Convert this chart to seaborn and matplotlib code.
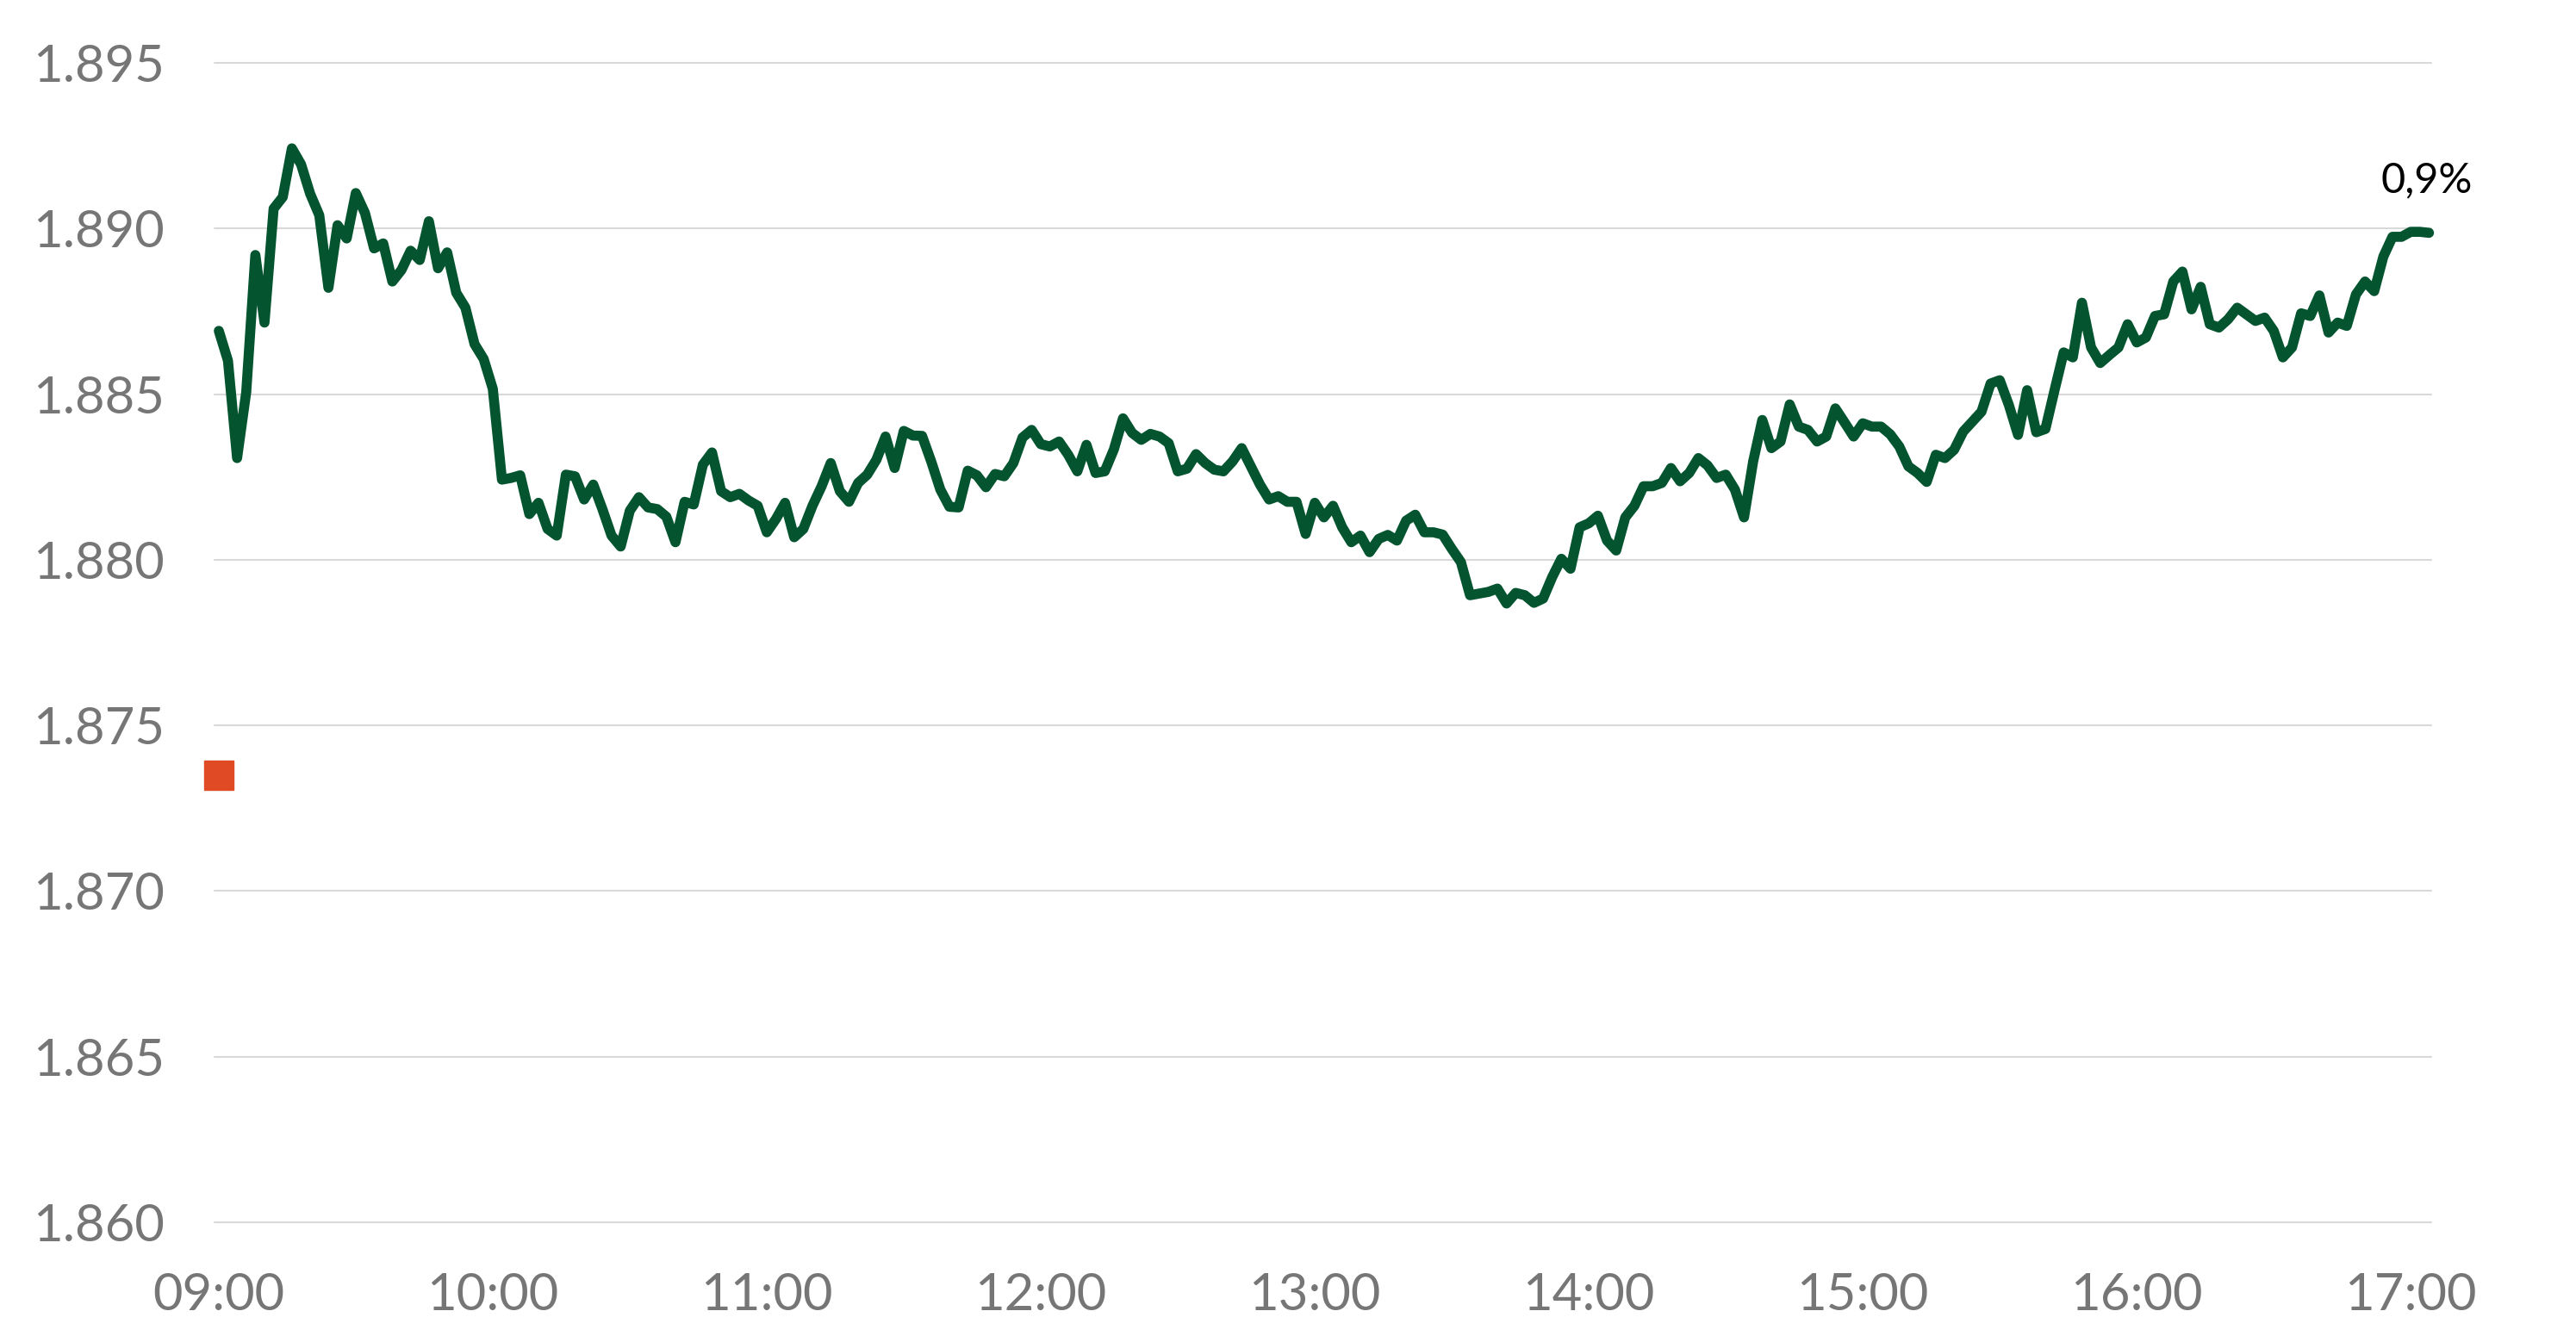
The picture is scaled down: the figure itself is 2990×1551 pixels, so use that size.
import pandas as pd
import numpy as np
import matplotlib
matplotlib.use("Agg")
import matplotlib.pyplot as plt
import seaborn as sns

# Intraday quote, one value every 2 minutes from 09:00 to 17:04
PRICES = [
    1.88691, 1.88601, 1.88307, 1.88506, 1.88920, 1.88716, 1.89060, 1.89095, 1.89242, 1.89194,
    1.89105, 1.89040, 1.88821, 1.89010, 1.88970, 1.89107, 1.89047, 1.88940, 1.88955, 1.88840,
    1.88875, 1.88933, 1.88905, 1.89022, 1.88880, 1.88928, 1.88806, 1.88761, 1.88651, 1.88606,
    1.88516, 1.88242, 1.88247, 1.88255, 1.88138, 1.88172, 1.88093, 1.88073, 1.88257, 1.88252,
    1.88182, 1.88227, 1.88153, 1.88073, 1.88040, 1.88148, 1.88189, 1.88158, 1.88153, 1.88130,
    1.88053, 1.88175, 1.88167, 1.88287, 1.88324, 1.88207, 1.88189, 1.88199, 1.88179, 1.88163,
    1.88083, 1.88123, 1.88172, 1.88068, 1.88093, 1.88163, 1.88222, 1.88292, 1.88207, 1.88175,
    1.88232, 1.88257, 1.88302, 1.88372, 1.88277, 1.88389, 1.88375, 1.88374, 1.88297, 1.88212,
    1.88160, 1.88158, 1.88269, 1.88255, 1.88219, 1.88259, 1.88252, 1.88292, 1.88369, 1.88392,
    1.88349, 1.88342, 1.88357, 1.88317, 1.88267, 1.88347, 1.88262, 1.88267, 1.88333, 1.88427,
    1.88383, 1.88362, 1.88380, 1.88372, 1.88352, 1.88267, 1.88275, 1.88319, 1.88292, 1.88272,
    1.88267, 1.88297, 1.88337, 1.88282, 1.88227, 1.88182, 1.88192, 1.88175, 1.88175, 1.88078,
    1.88172, 1.88128, 1.88163, 1.88098, 1.88053, 1.88073, 1.88023, 1.88063, 1.88075, 1.88058,
    1.88118, 1.88136, 1.88083, 1.88083, 1.88076, 1.88033, 1.87993, 1.87893, 1.87898, 1.87903,
    1.87913, 1.87868, 1.87900, 1.87893, 1.87870, 1.87883, 1.87948, 1.88003, 1.87973, 1.88098,
    1.88110, 1.88133, 1.88058, 1.88028, 1.88128, 1.88163, 1.88222, 1.88222, 1.88232, 1.88277,
    1.88237, 1.88262, 1.88307, 1.88285, 1.88247, 1.88257, 1.88212, 1.88128, 1.88297, 1.88422,
    1.88337, 1.88357, 1.88469, 1.88402, 1.88392, 1.88357, 1.88372, 1.88457, 1.88415, 1.88372,
    1.88412, 1.88402, 1.88402, 1.88379, 1.88342, 1.88282, 1.88262, 1.88235, 1.88317, 1.88307,
    1.88332, 1.88387, 1.88417, 1.88447, 1.88532, 1.88542, 1.88467, 1.88377, 1.88512, 1.88385,
    1.88395, 1.88512, 1.88626, 1.88611, 1.88776, 1.88641, 1.88594, 1.88618, 1.88641, 1.88711,
    1.88656, 1.88671, 1.88736, 1.88741, 1.88840, 1.88870, 1.88756, 1.88824, 1.88711, 1.88701,
    1.88726, 1.88761, 1.88741, 1.88721, 1.88731, 1.88691, 1.88611, 1.88641, 1.88744, 1.88736,
    1.88798, 1.88686, 1.88716, 1.88706, 1.88801, 1.88840, 1.88811, 1.88915, 1.88975, 1.88975,
    1.88990, 1.88990, 1.88987,
]
PREV_CLOSE = 1.8735
CHANGE_LABEL = "0,9%"

HOUR_LABELS = ["09:00", "10:00", "11:00", "12:00", "13:00",
               "14:00", "15:00", "16:00", "17:00"]
Y_TICKS = [1.860, 1.865, 1.870, 1.875, 1.880, 1.885, 1.890, 1.895]

GREEN = "#03542F"
RED = "#E04B25"
GREY_TEXT = "#767676"
GRID = "#D9D9D9"

sns.set_theme(style="white")
plt.rcParams["font.family"] = ["Lato", "DejaVu Sans"]

# minutes since 09:00, one quote every 2 minutes
df = pd.DataFrame({"minute": np.arange(len(PRICES)) * 2, "price": PRICES})

fig = plt.figure(figsize=(29.9, 15.51), dpi=100)
ax = fig.add_axes([0.08328, 0.08511, 0.86054, 0.86782])

sns.lineplot(data=df, x="minute", y="price", ax=ax, color=GREEN,
             linewidth=8.4, solid_joinstyle="round", solid_capstyle="round",
             clip_on=False, zorder=3)
ax.plot([0], [PREV_CLOSE], marker="s", markersize=24.5, color=RED,
        linestyle="none", clip_on=False, zorder=4)

last_x = df["minute"].iloc[-1]
last_y = df["price"].iloc[-1]
ax.annotate(CHANGE_LABEL, xy=(last_x, last_y), xytext=(-3, 47),
            textcoords="offset pixels", ha="center", va="baseline",
            fontsize=35, color="black")

ax.set_xlim(-0.94, 484.5)
ax.set_ylim(1.860, 1.895)
ax.set_xticks(np.arange(len(HOUR_LABELS)) * 60)
ax.set_xticklabels(HOUR_LABELS)
ax.set_yticks(Y_TICKS)
ax.set_yticklabels([f"{v:.3f}" for v in Y_TICKS])
ax.tick_params(axis="both", length=0, labelsize=43, labelcolor=GREY_TEXT, pad=42)

ax.grid(axis="y", color=GRID, linewidth=1.5)
ax.grid(axis="x", visible=False)
for spine in ax.spines.values():
    spine.set_visible(False)
for gl in ax.get_ygridlines():
    gl.set_clip_on(False)
ax.set_xlabel("")
ax.set_ylabel("")

fig.savefig("out.png", dpi=100, facecolor="white")
